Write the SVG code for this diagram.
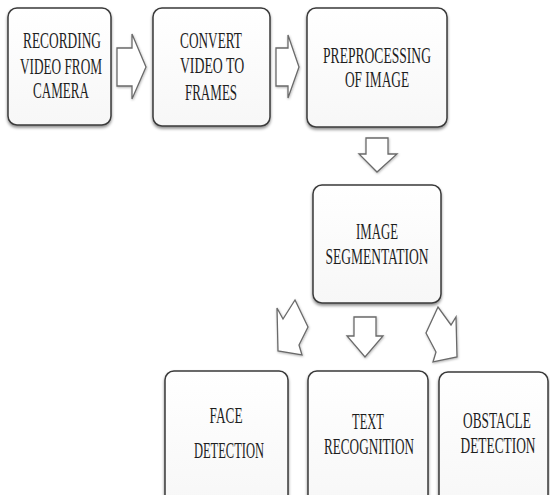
<svg xmlns="http://www.w3.org/2000/svg" width="550" height="495" viewBox="0 0 550 495">
<defs>
<filter id="sh" x="-10%" y="-10%" width="120%" height="125%">
<feDropShadow dx="0" dy="2" stdDeviation="1.5" flood-color="#000" flood-opacity="0.45"/>
</filter>
<filter id="ash" x="-20%" y="-20%" width="140%" height="140%">
<feDropShadow dx="0.5" dy="1" stdDeviation="0.8" flood-color="#000" flood-opacity="0.3"/>
</filter>
<linearGradient id="bg" x1="0" y1="0" x2="0" y2="1">
<stop offset="0" stop-color="#ffffff"/>
<stop offset="1" stop-color="#f7f7f7"/>
</linearGradient>
</defs>
<style>
.box{fill:url(#bg);stroke:#3a3a3a;stroke-width:1.5;filter:url(#sh)}
.arr{fill:#ffffff;stroke:#6a6a6a;stroke-width:1.3;stroke-linejoin:miter;filter:url(#ash)}
text{font-family:"Liberation Serif","Times New Roman",serif;font-size:23px;fill:#1e1e1e;text-anchor:middle}
</style>
<rect width="550" height="495" fill="#ffffff"/>
<g id="connectors">
<polygon class="arr" points="117,48 132,48 132,34 146,67 132,99 132,86 117,86"/>
<polygon class="arr" points="276,48 288,48 288,35 299,67 288,98 288,86 276,86"/>
<polygon class="arr" points="366,138 388,138 388,154 397,154 377,172 359,154 366,154"/>
<polygon class="arr" points="295,300 308,327 299,345 302,355 278,351 277,308 283,319"/>
<polygon class="arr" points="354,317 376,317 376,336 383,336 365,357 347,336 354,336"/>
<polygon class="arr" points="438,307 426,333 436,352 433,362 457,357 456,317 451,325"/>
</g>
<g id="recording">
<rect class="box" x="8" y="8" width="103" height="117" rx="9"/>
<text transform="translate(62,48) scale(0.6,1)" textLength="130" lengthAdjust="spacingAndGlyphs">RECORDING</text>
<text transform="translate(61,74) scale(0.6,1)" textLength="137" lengthAdjust="spacingAndGlyphs">VIDEO FROM</text>
<text transform="translate(61,98) scale(0.6,1)" textLength="93" lengthAdjust="spacingAndGlyphs">CAMERA</text>
</g>
<g id="convert">
<rect class="box" x="153" y="8" width="117" height="118" rx="9"/>
<text transform="translate(211,48) scale(0.6,1)" textLength="103" lengthAdjust="spacingAndGlyphs">CONVERT</text>
<text transform="translate(212,73) scale(0.6,1)" textLength="107" lengthAdjust="spacingAndGlyphs">VIDEO TO</text>
<text transform="translate(211,100) scale(0.6,1)" textLength="87" lengthAdjust="spacingAndGlyphs">FRAMES</text>
</g>
<g id="preprocessing">
<rect class="box" x="307" y="8" width="140" height="119" rx="9"/>
<text transform="translate(377,63) scale(0.6,1)" textLength="180" lengthAdjust="spacingAndGlyphs">PREPROCESSING</text>
<text transform="translate(377,87) scale(0.6,1)" textLength="107" lengthAdjust="spacingAndGlyphs">OF IMAGE</text>
</g>
<g id="segmentation">
<rect class="box" x="313" y="185" width="128" height="118" rx="9"/>
<text transform="translate(377,239) scale(0.6,1)" textLength="70" lengthAdjust="spacingAndGlyphs">IMAGE</text>
<text transform="translate(377,264) scale(0.6,1)" textLength="172" lengthAdjust="spacingAndGlyphs">SEGMENTATION</text>
</g>
<g id="face">
<rect class="box" x="165" y="371" width="123" height="135" rx="9"/>
<text transform="translate(226,423) scale(0.6,1)" textLength="55" lengthAdjust="spacingAndGlyphs">FACE</text>
<text transform="translate(229,458) scale(0.6,1)" textLength="117" lengthAdjust="spacingAndGlyphs">DETECTION</text>
</g>
<g id="text">
<rect class="box" x="308" y="371" width="120" height="135" rx="9"/>
<text transform="translate(368,429) scale(0.6,1)" textLength="53" lengthAdjust="spacingAndGlyphs">TEXT</text>
<text transform="translate(369,454) scale(0.6,1)" textLength="150" lengthAdjust="spacingAndGlyphs">RECOGNITION</text>
</g>
<g id="obstacle">
<rect class="box" x="439" y="372" width="109" height="135" rx="9"/>
<text transform="translate(497,428) scale(0.6,1)" textLength="113" lengthAdjust="spacingAndGlyphs">OBSTACLE</text>
<text transform="translate(498,453) scale(0.6,1)" textLength="125" lengthAdjust="spacingAndGlyphs">DETECTION</text>
</g>
</svg>
